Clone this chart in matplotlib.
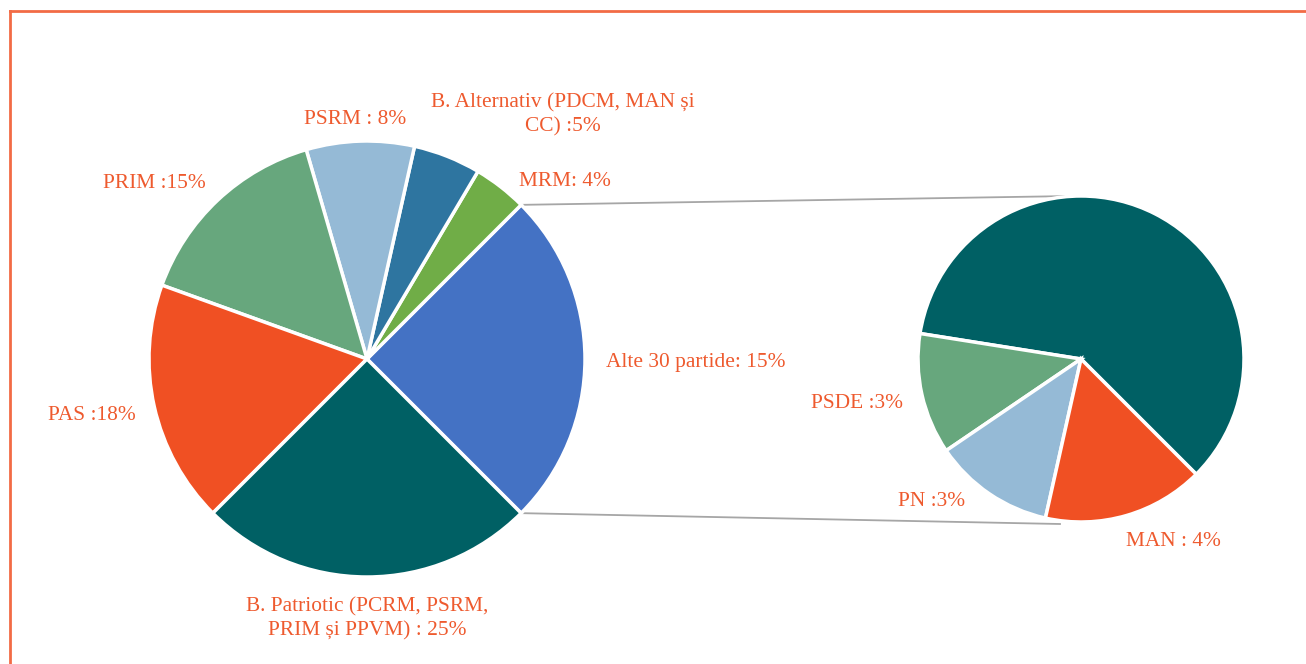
import matplotlib
matplotlib.use("Agg")
import matplotlib.pyplot as plt
import numpy as np

# ---- data ----
main_labels = ["Alte 30 partide: 15%", "MRM: 4%", "B. Alternativ (PDCM, MAN și\nCC) :5%",
               "PSRM : 8%", "PRIM :15%", "PAS :18%", "B. Patriotic (PCRM, PSRM,\nPRIM și PPVM) : 25%"]
main_values = [25, 4, 5, 8, 15, 18, 25]
main_colors = ["#4472C4", "#70AD47", "#2E75A0", "#95BAD6", "#67A77D", "#F05023", "#006064"]

sub_labels = ["", "PSDE :3%", "PN :3%", "MAN : 4%"]
sub_values = [15, 3, 3, 4]
sub_colors = ["#006064", "#67A77D", "#95BAD6", "#F05023"]

W, H = 1306, 664
fig = plt.figure(figsize=(W / 100, H / 100), dpi=100)
ax = fig.add_axes([0, 0, 1, 1])

def P(x, y):
    """pixel (top-left origin) -> data coords"""
    return x, H - y

label_color = "#EE5A2E"
font = dict(family="Liberation Serif", size=15.4, color=label_color)

c1, r1 = P(367, 359), 218
c2, r2 = P(1081, 359), 163

w1, _ = ax.pie(main_values, colors=main_colors, startangle=-45, counterclock=True,
               center=c1, radius=r1, wedgeprops=dict(edgecolor="white", linewidth=2.5),
               frame=True)
w2, _ = ax.pie(sub_values, colors=sub_colors, startangle=-45, counterclock=True,
               center=c2, radius=r2, wedgeprops=dict(edgecolor="white", linewidth=2.5),
               frame=True)
ax.set_xlim(0, W)
ax.set_ylim(0, H)
ax.set_aspect("equal")
ax.axis("off")

# label positions (pixel coordinates)
main_pos = [(696, 362), (565, 181), (563, 115), (355, 119), (154, 183), (92, 416), (367, 619)]
for lab, (x, y) in zip(main_labels, main_pos):
    ax.text(*P(x, y), lab, ha="center", va="center", linespacing=1.3, **font)
sub_pos = [None, (857, 404), (932, 502), (1173, 542)]
for lab, p in zip(sub_labels, sub_pos):
    if p and lab:
        ax.text(*P(*p), lab, ha="center", va="center", **font)

# connector lines from the "Alte" wedge to the sub pie
t1, t2 = w1[0].theta1, w1[0].theta2
def pt(c, r, ang):
    return c[0] + r * np.cos(np.radians(ang)), c[1] + r * np.sin(np.radians(ang))
pa = pt(c1, r1, t1)   # lower boundary
pb = pt(c1, r1, t2)   # upper boundary
top_sub = (c2[0] - 8, c2[1] + r2)
bot_sub = (c2[0] - 21, c2[1] - r2 - 2)
ax.plot([pb[0], top_sub[0]], [pb[1], top_sub[1]], color="#A6A6A6", lw=1.3, zorder=0)
ax.plot([pa[0], bot_sub[0]], [pa[1], bot_sub[1]], color="#A6A6A6", lw=1.3, zorder=0)

# frame lines
ax.plot([9.5, 9.5], [0, H - 11], color="#F26B45", lw=2, clip_on=False)
ax.plot([9.5, W], [H - 11, H - 11], color="#F26B45", lw=2, clip_on=False)

fig.savefig("out.png", dpi=100)
